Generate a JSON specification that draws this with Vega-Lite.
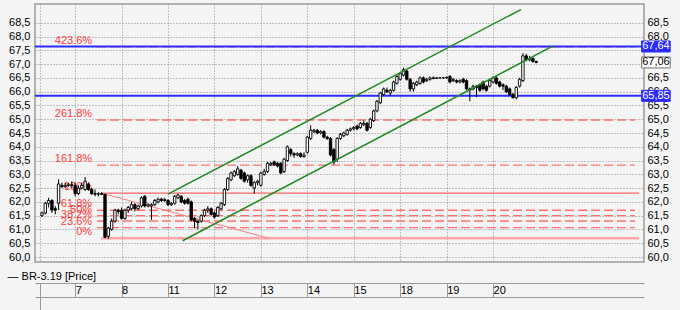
{
  "$schema": "https://vega.github.io/schema/vega-lite/v6.json",
  "width": 609,
  "height": 258,
  "autosize": {"type": "none"},
  "padding": {"left": 35, "top": 4, "right": 36, "bottom": 48},
  "background": "#f4f4f4",
  "config": {
    "view": {"stroke": "#9a9a9a", "strokeWidth": 1.5, "fill": "#f4f4f4"},
    "axis": {"labelFont": "Liberation Sans", "labelFontSize": 11, "labelColor": "#000000", "titleFont": "Liberation Sans", "titleFontSize": 11, "titleFontWeight": "normal", "titleColor": "#000000", "labelOverlap": false},
    "text": {"font": "Liberation Sans", "fontSize": 11}
  },
  "datasets": {
    "candles": [
      {"i":0,"o":61.5,"h":61.65,"l":61.45,"c":61.6},
      {"i":1,"o":61.6,"h":62.0,"l":61.55,"c":61.95},
      {"i":2,"o":61.95,"h":62.15,"l":61.8,"c":62.05},
      {"i":3,"o":62.05,"h":62.1,"l":61.6,"c":61.7},
      {"i":4,"o":61.75,"h":61.85,"l":61.55,"c":61.7},
      {"i":5,"o":61.95,"h":62.82,"l":61.7,"c":62.65},
      {"i":6,"o":62.6,"h":62.7,"l":62.5,"c":62.55},
      {"i":7,"o":62.55,"h":62.7,"l":62.5,"c":62.6},
      {"i":8,"o":62.6,"h":62.7,"l":62.55,"c":62.62},
      {"i":9,"o":62.62,"h":62.75,"l":62.5,"c":62.6},
      {"i":10,"o":62.6,"h":62.7,"l":62.2,"c":62.3},
      {"i":11,"o":62.3,"h":62.6,"l":62.25,"c":62.5},
      {"i":12,"o":62.5,"h":62.7,"l":62.45,"c":62.6},
      {"i":13,"o":62.45,"h":62.9,"l":62.4,"c":62.75},
      {"i":14,"o":62.65,"h":62.7,"l":62.4,"c":62.45},
      {"i":15,"o":62.45,"h":62.5,"l":62.25,"c":62.3},
      {"i":16,"o":62.3,"h":62.45,"l":62.2,"c":62.28},
      {"i":17,"o":62.28,"h":62.35,"l":62.2,"c":62.3},
      {"i":18,"o":62.3,"h":62.35,"l":62.25,"c":62.27},
      {"i":19,"o":62.27,"h":62.3,"l":60.68,"c":60.72},
      {"i":20,"o":60.75,"h":61.1,"l":60.66,"c":61.05},
      {"i":21,"o":61.0,"h":61.4,"l":60.95,"c":61.3},
      {"i":22,"o":61.3,"h":61.75,"l":61.25,"c":61.7},
      {"i":23,"o":61.7,"h":61.75,"l":61.55,"c":61.65},
      {"i":24,"o":61.7,"h":61.8,"l":61.35,"c":61.4},
      {"i":25,"o":61.4,"h":61.75,"l":61.35,"c":61.7},
      {"i":26,"o":61.7,"h":61.85,"l":61.6,"c":61.8},
      {"i":27,"o":61.75,"h":62.0,"l":61.7,"c":61.9},
      {"i":28,"o":61.9,"h":61.95,"l":61.65,"c":61.75},
      {"i":29,"o":61.75,"h":61.9,"l":61.7,"c":61.85},
      {"i":30,"o":61.85,"h":62.2,"l":61.8,"c":62.15},
      {"i":31,"o":62.2,"h":62.25,"l":61.8,"c":61.85},
      {"i":32,"o":61.85,"h":61.95,"l":61.8,"c":61.9},
      {"i":33,"o":61.85,"h":61.95,"l":61.35,"c":61.9},
      {"i":34,"o":61.9,"h":62.1,"l":61.85,"c":62.05},
      {"i":35,"o":62.0,"h":62.15,"l":61.95,"c":62.1},
      {"i":36,"o":62.1,"h":62.15,"l":62.0,"c":62.05},
      {"i":37,"o":62.05,"h":62.15,"l":62.0,"c":62.08},
      {"i":38,"o":62.05,"h":62.1,"l":61.85,"c":61.9},
      {"i":39,"o":61.9,"h":62.0,"l":61.85,"c":61.95},
      {"i":40,"o":61.95,"h":62.25,"l":61.9,"c":62.2},
      {"i":41,"o":62.15,"h":62.3,"l":62.1,"c":62.25},
      {"i":42,"o":62.2,"h":62.25,"l":61.95,"c":62.0},
      {"i":43,"o":62.05,"h":62.1,"l":61.9,"c":61.95},
      {"i":44,"o":62.1,"h":62.15,"l":61.9,"c":61.95},
      {"i":45,"o":62.0,"h":62.05,"l":61.3,"c":61.35},
      {"i":46,"o":61.4,"h":61.45,"l":61.05,"c":61.3},
      {"i":47,"o":61.3,"h":61.35,"l":61.0,"c":61.25},
      {"i":48,"o":61.3,"h":61.55,"l":61.25,"c":61.5},
      {"i":49,"o":61.5,"h":61.75,"l":61.45,"c":61.7},
      {"i":50,"o":61.7,"h":61.85,"l":61.6,"c":61.75},
      {"i":51,"o":61.75,"h":61.8,"l":61.5,"c":61.55},
      {"i":52,"o":61.6,"h":61.65,"l":61.4,"c":61.45},
      {"i":53,"o":61.5,"h":61.85,"l":61.45,"c":61.8},
      {"i":54,"o":61.75,"h":62.0,"l":61.7,"c":61.95},
      {"i":55,"o":61.9,"h":62.5,"l":61.85,"c":62.45},
      {"i":56,"o":62.45,"h":62.9,"l":62.4,"c":62.85},
      {"i":57,"o":62.8,"h":63.1,"l":62.75,"c":63.05},
      {"i":58,"o":62.95,"h":63.15,"l":62.9,"c":63.1},
      {"i":59,"o":63.0,"h":63.3,"l":62.95,"c":63.2},
      {"i":60,"o":63.15,"h":63.2,"l":62.8,"c":62.85},
      {"i":61,"o":63.05,"h":63.1,"l":62.7,"c":62.75},
      {"i":62,"o":62.8,"h":63.0,"l":62.7,"c":62.95},
      {"i":63,"o":62.95,"h":63.0,"l":62.55,"c":62.6},
      {"i":64,"o":62.5,"h":62.75,"l":62.3,"c":62.7},
      {"i":65,"o":62.7,"h":62.8,"l":62.6,"c":62.75},
      {"i":66,"o":62.6,"h":63.1,"l":62.55,"c":63.05},
      {"i":67,"o":63.0,"h":63.2,"l":62.95,"c":63.1},
      {"i":68,"o":63.1,"h":63.45,"l":63.05,"c":63.4},
      {"i":69,"o":63.35,"h":63.45,"l":63.3,"c":63.4},
      {"i":70,"o":63.45,"h":63.5,"l":63.3,"c":63.35},
      {"i":71,"o":63.4,"h":63.45,"l":63.25,"c":63.3},
      {"i":72,"o":63.4,"h":63.45,"l":63.0,"c":63.05},
      {"i":73,"o":63.1,"h":63.6,"l":63.05,"c":63.55},
      {"i":74,"o":63.5,"h":64.05,"l":63.45,"c":64.0},
      {"i":75,"o":63.9,"h":63.95,"l":63.65,"c":63.75},
      {"i":76,"o":63.75,"h":63.8,"l":63.6,"c":63.7},
      {"i":77,"o":63.7,"h":63.8,"l":63.65,"c":63.75},
      {"i":78,"o":63.75,"h":63.8,"l":63.6,"c":63.65},
      {"i":79,"o":63.65,"h":63.8,"l":63.6,"c":63.7},
      {"i":80,"o":63.8,"h":64.4,"l":63.75,"c":64.35},
      {"i":81,"o":64.3,"h":64.78,"l":64.25,"c":64.6},
      {"i":82,"o":64.55,"h":64.65,"l":64.5,"c":64.6},
      {"i":83,"o":64.6,"h":64.65,"l":64.45,"c":64.5},
      {"i":84,"o":64.5,"h":64.6,"l":64.45,"c":64.55},
      {"i":85,"o":64.55,"h":64.6,"l":64.3,"c":64.35},
      {"i":86,"o":64.35,"h":64.4,"l":64.25,"c":64.3},
      {"i":87,"o":64.3,"h":64.35,"l":63.65,"c":63.7},
      {"i":88,"o":63.9,"h":63.95,"l":63.35,"c":63.45},
      {"i":89,"o":63.55,"h":64.35,"l":63.45,"c":64.3},
      {"i":90,"o":64.3,"h":64.5,"l":64.25,"c":64.45},
      {"i":91,"o":64.4,"h":64.55,"l":64.35,"c":64.5},
      {"i":92,"o":64.45,"h":64.65,"l":64.4,"c":64.6},
      {"i":93,"o":64.6,"h":64.7,"l":64.55,"c":64.65},
      {"i":94,"o":64.65,"h":64.75,"l":64.6,"c":64.7},
      {"i":95,"o":64.75,"h":64.8,"l":64.6,"c":64.65},
      {"i":96,"o":64.7,"h":64.9,"l":64.65,"c":64.85},
      {"i":97,"o":64.8,"h":64.95,"l":64.75,"c":64.85},
      {"i":98,"o":64.85,"h":64.9,"l":64.55,"c":64.6},
      {"i":99,"o":64.7,"h":65.05,"l":64.65,"c":65.0},
      {"i":100,"o":64.95,"h":65.35,"l":64.9,"c":65.3},
      {"i":101,"o":65.3,"h":65.7,"l":65.25,"c":65.65},
      {"i":102,"o":65.6,"h":66.0,"l":65.55,"c":65.95},
      {"i":103,"o":65.9,"h":66.15,"l":65.85,"c":66.1},
      {"i":104,"o":66.05,"h":66.15,"l":65.95,"c":66.0},
      {"i":105,"o":65.95,"h":66.1,"l":65.85,"c":66.05},
      {"i":106,"o":66.05,"h":66.4,"l":66.0,"c":66.35},
      {"i":107,"o":66.3,"h":66.6,"l":66.25,"c":66.55},
      {"i":108,"o":66.45,"h":66.7,"l":66.4,"c":66.65},
      {"i":109,"o":66.6,"h":66.87,"l":66.55,"c":66.8},
      {"i":110,"o":66.75,"h":66.8,"l":66.4,"c":66.45},
      {"i":111,"o":66.45,"h":66.5,"l":66.0,"c":66.1},
      {"i":112,"o":66.1,"h":66.35,"l":66.0,"c":66.3},
      {"i":113,"o":66.25,"h":66.4,"l":66.2,"c":66.35},
      {"i":114,"o":66.3,"h":66.55,"l":66.25,"c":66.5},
      {"i":115,"o":66.5,"h":66.55,"l":66.3,"c":66.35},
      {"i":116,"o":66.4,"h":66.5,"l":66.35,"c":66.45},
      {"i":117,"o":66.45,"h":66.55,"l":66.4,"c":66.5},
      {"i":118,"o":66.5,"h":66.55,"l":66.45,"c":66.48},
      {"i":119,"o":66.48,"h":66.52,"l":66.47,"c":66.5},
      {"i":120,"o":66.5,"h":66.52,"l":66.48,"c":66.5},
      {"i":121,"o":66.5,"h":66.52,"l":66.48,"c":66.5},
      {"i":122,"o":66.5,"h":66.55,"l":66.47,"c":66.52},
      {"i":123,"o":66.55,"h":66.6,"l":66.3,"c":66.35},
      {"i":124,"o":66.4,"h":66.5,"l":66.35,"c":66.45},
      {"i":125,"o":66.4,"h":66.45,"l":66.3,"c":66.35},
      {"i":126,"o":66.35,"h":66.45,"l":66.3,"c":66.4},
      {"i":127,"o":66.45,"h":66.5,"l":66.3,"c":66.35},
      {"i":128,"o":66.4,"h":66.45,"l":66.05,"c":66.1},
      {"i":129,"o":66.1,"h":66.15,"l":65.65,"c":66.05},
      {"i":130,"o":66.1,"h":66.25,"l":66.05,"c":66.2},
      {"i":131,"o":66.2,"h":66.25,"l":65.8,"c":66.15},
      {"i":132,"o":66.25,"h":66.3,"l":66.0,"c":66.05},
      {"i":133,"o":66.35,"h":66.4,"l":66.05,"c":66.1},
      {"i":134,"o":66.2,"h":66.25,"l":66.0,"c":66.05},
      {"i":135,"o":66.2,"h":66.45,"l":66.15,"c":66.4},
      {"i":136,"o":66.35,"h":66.55,"l":66.3,"c":66.5},
      {"i":137,"o":66.5,"h":66.55,"l":66.25,"c":66.3},
      {"i":138,"o":66.35,"h":66.4,"l":66.15,"c":66.2},
      {"i":139,"o":66.25,"h":66.3,"l":66.05,"c":66.2},
      {"i":140,"o":66.2,"h":66.25,"l":65.95,"c":66.0},
      {"i":141,"o":66.1,"h":66.15,"l":65.85,"c":65.9},
      {"i":142,"o":65.9,"h":65.95,"l":65.75,"c":65.78},
      {"i":143,"o":65.78,"h":66.2,"l":65.72,"c":66.15},
      {"i":144,"o":66.2,"h":66.5,"l":66.15,"c":66.45},
      {"i":145,"o":66.4,"h":67.4,"l":66.35,"c":67.3},
      {"i":146,"o":67.3,"h":67.38,"l":67.1,"c":67.15},
      {"i":147,"o":67.15,"h":67.3,"l":67.1,"c":67.2},
      {"i":148,"o":67.2,"h":67.25,"l":67.05,"c":67.1},
      {"i":149,"o":67.1,"h":67.12,"l":67.03,"c":67.06}
    ],
    "fib": [
      {"pct":"0%","v":60.68,"x1":17.8,"x2":180,"kind":"bound"},
      {"pct":"23.6%","v":61.067,"x1":16.6,"x2":178.8,"kind":"ext"},
      {"pct":"38.2%","v":61.306,"x1":16.6,"x2":178.8,"kind":"ext"},
      {"pct":"50%","v":61.5,"x1":16.6,"x2":178.8,"kind":"ext"},
      {"pct":"61.8%","v":61.694,"x1":16.6,"x2":178.8,"kind":"ext"},
      {"pct":"100%","v":62.32,"x1":17.8,"x2":180,"kind":"bound"},
      {"pct":"161.8%","v":63.334,"x1":16.6,"x2":178.8,"kind":"ext"},
      {"pct":"261.8%","v":64.973,"x1":16.6,"x2":178.8,"kind":"ext"},
      {"pct":"423.6%","v":67.627,"x1":16.6,"x2":178.8,"kind":"ext"}
    ],
    "fibTrend": [
      {"x1":17.8,"v1":62.32,"x2":68.5,"v2":60.68}
    ],
    "channel": [
      {"name":"upper","x1":37.95,"v1":62.28,"x2":144.4,"v2":68.98},
      {"name":"lower","x1":42.4,"v1":60.59,"x2":154.1,"v2":67.66}
    ],
    "levels": [
      {"v":67.64,"label":"67,64","kind":"level"},
      {"v":65.85,"label":"65,85","kind":"level"},
      {"v":67.06,"label":"67,06","kind":"last"}
    ]
  },
  "resolve": {"axis": {"x": "independent", "y": "independent"}},
  "layer": [
    {
      "data": {"name": "fib"},
      "transform": [{"filter": "datum.kind == 'bound'"}],
      "mark": {"type": "rule"},
      "encoding": {
        "x": {"field": "x1", "type": "quantitative", "scale": {"domain": [-0.6, 180], "nice": false, "zero": false},
              "axis": {"orient": "bottom", "offset": 21, "values": [-0.6], "tickSize": 27, "tickColor": "#9a9a9a", "domain": false, "labels": false, "grid": false, "title": null}},
        "x2": {"field": "x2"},
        "y": {"field": "v", "type": "quantitative", "scale": {"domain": [60, 69], "nice": false, "zero": false}, "axis": null},
        "color": {"condition": {"test": "datum.pct == '0%'", "value": "#ffa6a6"}, "value": "#ff6666"},
        "strokeWidth": {"condition": {"test": "datum.pct == '0%'", "value": 2.5}, "value": 1.3}
      }
    },
    {
      "data": {"name": "fib"},
      "transform": [{"filter": "datum.kind == 'ext'"}],
      "mark": {"type": "rule", "color": "#ff7070", "strokeWidth": 1.4, "strokeDash": [9, 4]},
      "encoding": {
        "x": {"field": "x1", "type": "quantitative", "axis": null},
        "x2": {"field": "x2"},
        "y": {"field": "v", "type": "quantitative", "axis": null}
      }
    },
    {
      "data": {"name": "fibTrend"},
      "mark": {"type": "rule", "color": "#ff8080", "strokeWidth": 1},
      "encoding": {
        "x": {"field": "x1", "type": "quantitative", "axis": null},
        "x2": {"field": "x2"},
        "y": {"field": "v1", "type": "quantitative", "axis": null},
        "y2": {"field": "v2"}
      }
    },
    {
      "data": {"name": "fib"},
      "mark": {"type": "text", "align": "right", "baseline": "alphabetic", "dy": -3, "color": "#ff3b3b", "fontSize": 11},
      "encoding": {
        "x": {"datum": 15.1, "type": "quantitative", "axis": null},
        "y": {"field": "v", "type": "quantitative", "axis": null},
        "text": {"field": "pct"}
      }
    },
    {
      "data": {"name": "levels"},
      "transform": [{"filter": "datum.kind == 'level'"}],
      "mark": {"type": "rule", "color": "#2b2bff", "strokeWidth": 2},
      "encoding": {
        "y": {"field": "v", "type": "quantitative", "axis": null}
      }
    },
    {
      "data": {"name": "candles"},
      "mark": {"type": "rule", "color": "#000000", "strokeWidth": 1},
      "encoding": {
        "x": {"field": "i", "type": "quantitative",
              "axis": {"orient": "bottom", "offset": 21, "values": [-0.6, 10, 24, 38, 52, 66, 80, 94, 108, 122, 136],
                       "grid": true, "gridDash": [1, 2], "gridColor": "#8c8c8c", "gridWidth": 1,
                       "domainColor": "#9a9a9a", "tickColor": "#9a9a9a", "tickSize": 14,
                       "labelExpr": "datum.value < 5 ? '' : ['7','8','11','12','13','14','15','18','19','20'][round((datum.value - 10) / 14)]",
                       "labelAlign": "left", "labelDx": 3, "labelBaseline": "middle", "labelPadding": -7, "labelFlush": false,
                       "title": "—  BR-3.19 [Price]", "titleX": -28, "titleY": -7, "titleAlign": "left", "titleBaseline": "middle", "titleAngle": 0}},
        "y": {"field": "l", "type": "quantitative",
              "axis": {"orient": "left", "values": [60, 60.5, 61, 61.5, 62, 62.5, 63, 63.5, 64, 64.5, 65, 65.5, 66, 66.5, 67, 67.5, 68, 68.5],
                       "grid": true, "gridDash": [1, 2], "gridColor": "#8c8c8c", "ticks": false, "domain": false, "labelPadding": 5,
                       "labelExpr": "replace(format(datum.value, '.1f'), '.', ',')", "title": null}},
        "y2": {"field": "h"}
      }
    },
    {
      "data": {"name": "candles"},
      "mark": {"type": "bar", "size": 2.4, "stroke": "#000000", "strokeWidth": 0.9},
      "encoding": {
        "x": {"field": "i", "type": "quantitative",
              "axis": {"orient": "bottom", "offset": 35, "domain": true, "domainColor": "#9a9a9a", "ticks": false, "labels": false, "grid": false, "title": null}},
        "y": {"field": "o", "type": "quantitative",
              "axis": {"orient": "right", "values": [60, 60.5, 61, 61.5, 62, 62.5, 63, 63.5, 64, 64.5, 65, 65.5, 66, 66.5, 68, 68.5],
                       "grid": false, "ticks": false, "domain": false, "labelPadding": 3,
                       "labelExpr": "replace(format(datum.value, '.1f'), '.', ',')", "title": null}},
        "y2": {"field": "c"},
        "fill": {"condition": {"test": "datum.c >= datum.o", "value": "#ffffff"}, "value": "#000000"}
      }
    },
    {
      "data": {"name": "channel"},
      "mark": {"type": "rule", "color": "#1f8a1f", "strokeWidth": 1.5},
      "encoding": {
        "x": {"field": "x1", "type": "quantitative", "axis": null},
        "x2": {"field": "x2"},
        "y": {"field": "v1", "type": "quantitative", "axis": null},
        "y2": {"field": "v2"}
      }
    },
    {
      "data": {"name": "levels"},
      "mark": {"type": "bar", "size": 11, "strokeWidth": 1},
      "encoding": {
        "x": {"datum": 180.8, "type": "quantitative", "axis": null},
        "x2": {"datum": 189.4},
        "y": {"field": "v", "type": "quantitative", "axis": null},
        "fill": {"condition": {"test": "datum.kind == 'level'", "value": "#2b2bff"}, "value": "#ffffff"},
        "stroke": {"condition": {"test": "datum.kind == 'level'", "value": "#2b2bff"}, "value": "#707070"}
      }
    },
    {
      "data": {"name": "levels"},
      "mark": {"type": "text", "align": "center", "baseline": "middle", "fontSize": 11},
      "encoding": {
        "x": {"datum": 185.1, "type": "quantitative", "axis": null},
        "y": {"field": "v", "type": "quantitative", "axis": null},
        "text": {"field": "label"},
        "color": {"condition": {"test": "datum.kind == 'level'", "value": "#ffffff"}, "value": "#000000"}
      }
    }
  ]
}
